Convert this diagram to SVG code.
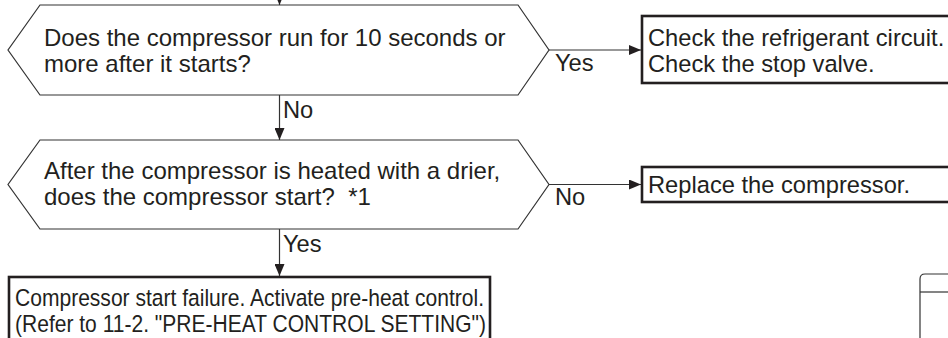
<svg xmlns="http://www.w3.org/2000/svg" width="948" height="338" viewBox="0 0 948 338">
<style>
.t{font-family:"Liberation Sans",Arial,sans-serif;font-size:23.7px;fill:#231f20}
.h{font-size:24px}
.hex{fill:#fff;stroke:#333;stroke-width:1.2}
.box{fill:#fff;stroke:#231f20;stroke-width:2.6}
.ln{stroke:#333;stroke-width:1.2;fill:none}
</style>
<defs>
<marker id="ah" markerWidth="12" markerHeight="10" refX="12" refY="5" orient="auto" markerUnits="userSpaceOnUse">
<path d="M0,0 L12,5 L0,10 Z" fill="#231f20"/>
</marker>
</defs>
<rect width="948" height="338" fill="#fff"/>
<g id="connectors">
<line class="ln" x1="279.5" y1="-5" x2="279.5" y2="5" marker-end="url(#ah)"/>
<line class="ln" x1="549" y1="50" x2="641" y2="50" marker-end="url(#ah)"/>
<line class="ln" x1="279.5" y1="95" x2="279.5" y2="140" marker-end="url(#ah)"/>
<line class="ln" x1="549" y1="184.5" x2="641" y2="184.5" marker-end="url(#ah)"/>
<line class="ln" x1="279.5" y1="229" x2="279.5" y2="276" marker-end="url(#ah)"/>
<text class="t" x="555" y="71">Yes</text>
<text class="t" x="283" y="118">No</text>
<text class="t" x="555" y="205">No</text>
<text class="t" x="283" y="252">Yes</text>
</g>
<g id="q1">
<polygon class="hex" points="40,5 518,5 549,50 518,95 40,95 8,50"/>
<text class="t h" x="44" y="46">Does the compressor run for 10 seconds or</text>
<text class="t h" x="44" y="72">more after it starts?</text>
</g>
<g id="r1">
<rect class="box" x="642" y="16" width="330" height="67"/>
<text class="t" x="648" y="45.5">Check the refrigerant circuit.</text>
<text class="t" x="648" y="72">Check the stop valve.</text>
</g>
<g id="q2">
<polygon class="hex" points="40,140 518,140 549,184.5 518,229 40,229 8,184.5"/>
<text class="t h" x="44" y="179">After the compressor is heated with a drier,</text>
<text class="t h" x="44" y="205">does the compressor start?&#160; *1</text>
</g>
<g id="r2">
<rect class="box" x="642" y="167" width="330" height="35"/>
<text class="t" x="648" y="192.5">Replace the compressor.</text>
</g>
<g id="r3">
<rect class="box" x="9" y="277" width="481" height="80"/>
<text class="t" x="15" y="305.5" textLength="469" lengthAdjust="spacingAndGlyphs">Compressor start failure. Activate pre-heat control.</text>
<text class="t" x="15" y="331.5" textLength="471" lengthAdjust="spacingAndGlyphs">(Refer to 11-2. "PRE-HEAT CONTROL SETTING")</text>
</g>
<g id="tab">
<path class="ln" d="M920,340 V279 Q920,274 925,274 H950"/>
<line class="ln" x1="920" y1="292" x2="950" y2="292"/>
</g>
</svg>
